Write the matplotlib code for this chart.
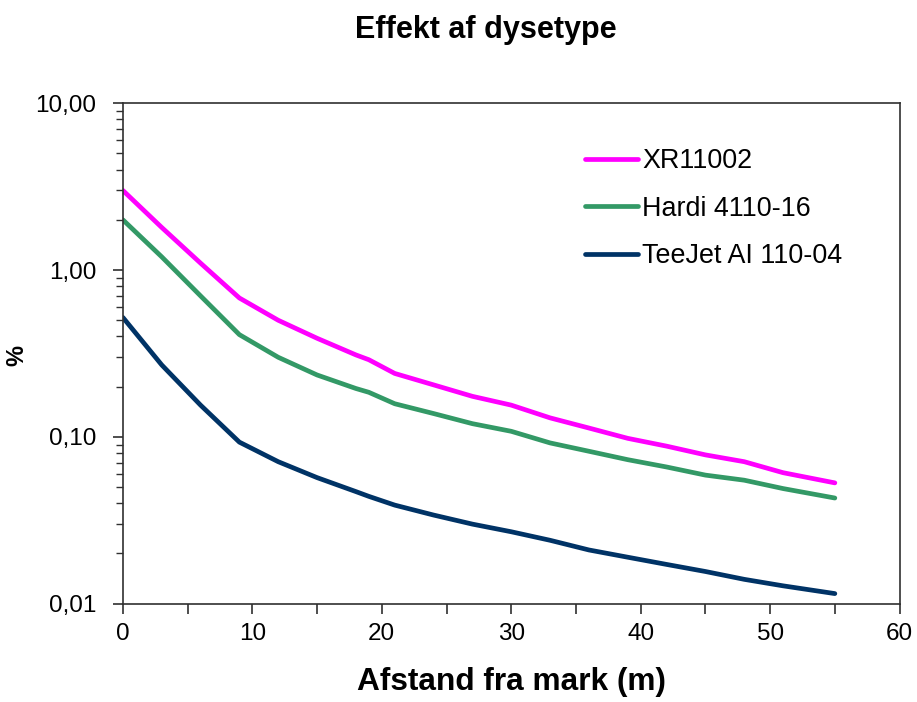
import numpy as np
import matplotlib
matplotlib.use('Agg')
from matplotlib import pyplot as plt
from matplotlib.ticker import FixedLocator, MultipleLocator, NullFormatter

plt.rcParams.update({'font.family': ['Liberation Sans', 'DejaVu Sans']})

# afstand (m)
dist = [0, 3, 6, 9, 12, 15, 18, 19, 21, 24, 27, 30, 33, 36, 39, 42, 45, 48, 51, 55]

xr11002 = [3.0, 1.80, 1.10, 0.68, 0.50, 0.39, 0.31, 0.29, 0.24, 0.205, 0.175,
           0.155, 0.13, 0.113, 0.098, 0.088, 0.078, 0.071, 0.061, 0.053]
hardi = [2.0, 1.20, 0.70, 0.41, 0.30, 0.235, 0.195, 0.185, 0.158, 0.138, 0.12,
         0.108, 0.092, 0.082, 0.073, 0.066, 0.059, 0.055, 0.049, 0.043]
teejet = [0.52, 0.27, 0.155, 0.093, 0.071, 0.057, 0.047, 0.044, 0.039, 0.034,
          0.030, 0.027, 0.024, 0.021, 0.019, 0.0172, 0.0156, 0.014, 0.0128, 0.0115]

labels = ['XR11002', 'Hardi 4110-16', 'TeeJet AI 110-04']
colors = ['#FF00FF', '#339966', '#003366']

y_ticks = [0.01, 0.1, 1, 10]
y_ticklabels = ['0,01', '0,10', '1,00', '10,00']

fig = plt.figure(figsize=(9.17, 7.02), dpi=100)
ax = fig.add_axes([0.134, 0.14, 0.847, 0.713])

for vals, lab, col in zip([xr11002, hardi, teejet], labels, colors):
    ax.plot(dist, vals, color=col, lw=3.4, label=lab, solid_capstyle='round')

ax.set_yscale('log')
ax.set_xlim(0, 60)
ax.set_ylim(0.01, 10)
ax.yaxis.set_major_locator(FixedLocator(y_ticks))
ax.set_yticklabels(y_ticklabels)
ax.yaxis.set_minor_formatter(NullFormatter())
ax.xaxis.set_major_locator(MultipleLocator(10))
ax.xaxis.set_minor_locator(MultipleLocator(5))

for s in ax.spines.values():
    s.set_color('#303030')
    s.set_linewidth(1.2)
ax.tick_params(which='major', direction='out', length=7, width=1.2,
               color='#303030', labelsize=17.5, pad=7)
ax.tick_params(axis='y', which='major', pad=12)
ax.tick_params(which='minor', direction='out', length=5, width=1.0,
               color='#303030')
ax.tick_params(axis='x', which='minor', length=7, width=1.2)

fig.text(0.53, 0.957, 'Effekt af dysetype', fontsize=22, fontweight='bold',
         ha='center', va='center')
ax.set_xlabel('Afstand fra mark (m)', fontsize=22.8, fontweight='bold', labelpad=16)
fig.text(0.018, 0.494, '%', fontsize=17, fontweight='bold', rotation=90,
         ha='center', va='center')

ax.legend(loc='upper left', bbox_to_anchor=(0.595, 0.91), frameon=False,
          borderpad=0, borderaxespad=0,
          fontsize=19.4, handlelength=1.97, handletextpad=0.15, labelspacing=0.8)

fig.savefig('out.png', dpi=100)
